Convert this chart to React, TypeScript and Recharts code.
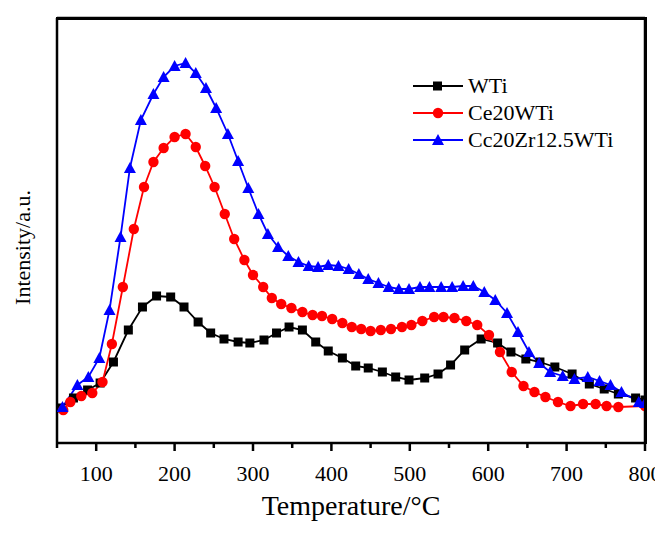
import React from 'react';
import { LineChart, Line, XAxis, YAxis, Label, CartesianGrid } from 'recharts';

// Temperature (°C) and intensity (a.u.)
const wtiTemp = [54, 71, 89, 105, 122, 141, 159, 177, 195, 212, 230, 246, 263, 281, 296, 314, 330, 346, 363, 380, 396, 414, 431, 447, 465, 482, 499, 519, 536, 552, 570, 591, 612, 629, 648, 666, 685, 707, 729, 748, 766, 788, 800];
const wtiVal = [35, 45, 53, 60, 81, 113, 136, 147, 146, 136, 121, 110, 104, 101, 100, 103, 110, 116, 113, 101, 92, 85, 77, 75, 71, 66, 63, 65, 69, 78, 93, 104, 100, 91, 84, 81, 76, 69, 59, 54, 49, 45, 43];

const ceTemp = [58, 67, 81, 95, 108, 120, 134, 148, 161, 173, 186, 200, 214, 227, 239, 251, 264, 276, 289, 300, 313, 324, 336, 349, 363, 376, 388, 401, 414, 426, 438, 450, 463, 476, 490, 502, 516, 531, 543, 557, 572, 586, 601, 615, 630, 645, 659, 673, 689, 705, 721, 737, 751, 766, 800];
const ceVal = [33, 41, 47, 50, 61, 99, 156, 214, 256, 281, 295, 306, 309, 296, 277, 256, 229, 204, 183, 168, 156, 145, 139, 135, 131, 128, 127, 124, 120, 116, 114, 112, 113, 114, 116, 118, 122, 126, 126, 125, 122, 118, 108, 91, 71, 57, 51, 46, 41, 37, 39, 39, 37, 36, 37];

const zrTemp = [57, 76, 90, 104, 117, 131, 143, 157, 173, 186, 200, 214, 227, 240, 253, 268, 281, 294, 307, 319, 332, 345, 358, 371, 383, 396, 409, 422, 435, 447, 460, 473, 486, 499, 513, 525, 540, 554, 568, 581, 595, 609, 624, 638, 652, 665, 679, 695, 710, 727, 742, 756, 770, 792, 800];
const zrVal = [36, 58, 66, 85, 133, 206, 275, 323, 349, 366, 377, 380, 370, 355, 335, 309, 282, 255, 229, 209, 196, 187, 181, 177, 176, 178, 177, 174, 169, 164, 160, 156, 154, 154, 156, 156, 156, 156, 157, 157, 151, 143, 130, 111, 91, 80, 71, 67, 64, 66, 62, 58, 51, 41, 40];

const xDomain = [50, 800];
const yDomain = [0, 425];
const xTicks = [50, 100, 150, 200, 250, 300, 350, 400, 450, 500, 550, 600, 650, 700, 750, 800];
const majorTicks = [100, 200, 300, 400, 500, 600, 700, 800];
const seriesNames = ['WTi', 'Ce20WTi', 'Cc20Zr12.5WTi'];
const seriesColors = ['#000000', '#ff0000', '#0000ff'];

const toRows = (t: number[], v: number[]) => t.map((x, i) => ({ t: x, v: v[i] }));
const wtiData = toRows(wtiTemp, wtiVal);
const ceData = toRows(ceTemp, ceVal);
const zrData = toRows(zrTemp, zrVal);

const FONT = '"Liberation Serif", "Times New Roman", serif';
const frameLine = { stroke: '#000', strokeWidth: 2.5 };

const Square = (props: any) => {
  const { cx, cy, index } = props;
  if (cx == null || cy == null) return <g key={`s${index}`} />;
  return <rect key={`s${index}`} x={cx - 4.5} y={cy - 4.5} width={9} height={9} fill="#000" />;
};
const Circle = (props: any) => {
  const { cx, cy, index } = props;
  if (cx == null || cy == null) return <g key={`c${index}`} />;
  return <circle key={`c${index}`} cx={cx} cy={cy} r={5.2} fill="#ff0000" />;
};
const Tri = (props: any) => {
  const { cx, cy, index } = props;
  if (cx == null || cy == null) return <g key={`t${index}`} />;
  return <path key={`t${index}`} d={`M${cx},${cy - 6} L${cx + 6},${cy + 5} L${cx - 6},${cy + 5} Z`} fill="#0000ff" />;
};

const XTick = (props: any) => {
  const { x, y, payload } = props;
  const major = majorTicks.includes(payload.value);
  return (
    <g>
      <line x1={x} y1={y} x2={x} y2={y + (major ? 8 : 5)} stroke="#000" strokeWidth={2.5} />
      {major && (
        <text x={x} y={y + 30} textAnchor="middle" dominantBaseline="central" fontFamily={FONT} fontSize={22} fill="#000">
          {payload.value}
        </text>
      )}
    </g>
  );
};

const legendMarker = (i: number) => {
  if (i === 0) return <rect x={20} y={5.5} width={9} height={9} fill="#000" />;
  if (i === 1) return <circle cx={25} cy={10} r={5.2} fill="#ff0000" />;
  return <path d="M25,4 L31,15 L19,15 Z" fill="#0000ff" />;
};

export default function App() {
  return (
    <div style={{ position: 'relative', width: 663, height: 533, margin: -8, background: '#fff' }}>
      <LineChart width={663} height={533} margin={{ top: 18, right: 18, bottom: 0, left: 0 }}>
        <CartesianGrid
          xAxisId="b"
          yAxisId="l"
          stroke="#000"
          strokeWidth={2.5}
          horizontalPoints={[18]}
          verticalPoints={[645]}
        />
        <XAxis
          xAxisId="b"
          dataKey="t"
          type="number"
          domain={xDomain}
          ticks={xTicks}
          interval={0}
          height={90}
          tickSize={0}
          tickMargin={0}
          tickLine={false}
          tick={<XTick />}
          axisLine={frameLine}
          allowDataOverflow
        >
          <Label
            content={(p: any) => {
              const vb = p.viewBox || {};
              return (
                <text x={vb.x + vb.width / 2} y={vb.y + 62} textAnchor="middle" dominantBaseline="central" fontFamily={FONT} fontSize={28} fill="#000">
                  Temperature/°C
                </text>
              );
            }}
          />
        </XAxis>
        <YAxis
          yAxisId="l"
          type="number"
          domain={yDomain}
          width={57}
          tick={false}
          tickLine={false}
          axisLine={frameLine}
          allowDataOverflow
        >
          <Label
            content={(p: any) => {
              const vb = p.viewBox || {};
              const cx = 22;
              const cy = vb.y + vb.height / 2 + 17;
              return (
                <text x={cx} y={cy} transform={`rotate(-90, ${cx}, ${cy})`} textAnchor="middle" dominantBaseline="central" fontFamily={FONT} fontSize={22} fill="#000">
                  Intensity/a.u.
                </text>
              );
            }}
          />
        </YAxis>
        <Line xAxisId="b" yAxisId="l" data={wtiData} dataKey="v" stroke={seriesColors[0]} strokeWidth={1.8} dot={Square} activeDot={false} isAnimationActive={false} />
        <Line xAxisId="b" yAxisId="l" data={ceData} dataKey="v" stroke={seriesColors[1]} strokeWidth={1.8} dot={Circle} activeDot={false} isAnimationActive={false} />
        <Line xAxisId="b" yAxisId="l" data={zrData} dataKey="v" stroke={seriesColors[2]} strokeWidth={1.8} dot={Tri} activeDot={false} isAnimationActive={false} />
      </LineChart>
      <div style={{ position: 'absolute', left: 56, top: 17, width: 591, height: 3, background: '#000' }} />
      <div style={{ position: 'absolute', left: 644, top: 17, width: 3, height: 427, background: '#000' }} />
      <div style={{ position: 'absolute', left: 413, top: 72, fontFamily: FONT, fontSize: 22, color: '#000', lineHeight: '27px' }}>
        {seriesNames.map((name, i) => (
          <div key={name} style={{ display: 'flex', alignItems: 'center', height: 27 }}>
            <svg width={50} height={20} style={{ display: 'block' }}>
              <line x1={0} y1={10} x2={50} y2={10} stroke={seriesColors[i]} strokeWidth={2} />
              {legendMarker(i)}
            </svg>
            <span style={{ marginLeft: 5, whiteSpace: 'nowrap' }}>{name}</span>
          </div>
        ))}
      </div>
    </div>
  );
}
